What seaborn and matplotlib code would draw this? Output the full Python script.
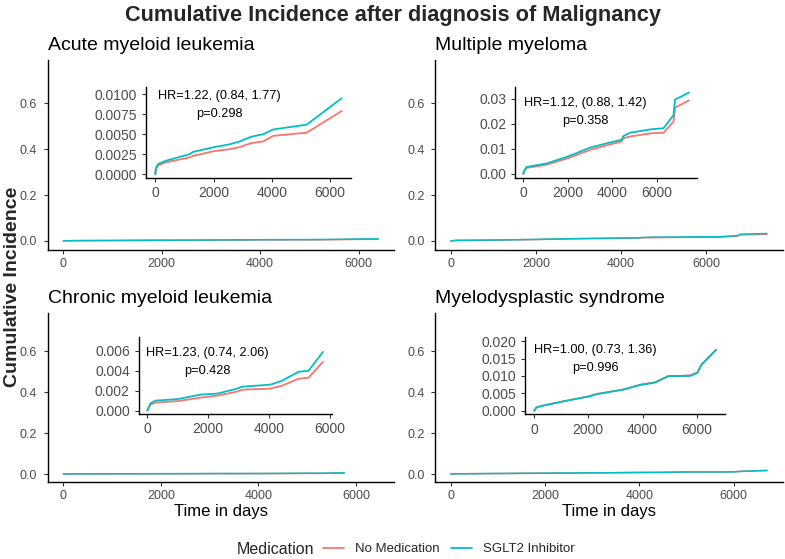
import numpy as np
import pandas as pd
import matplotlib
matplotlib.use("Agg")
import matplotlib.pyplot as plt
from matplotlib.ticker import FuncFormatter
from matplotlib.lines import Line2D
import seaborn as sns

# ---------------- data ----------------
groups = ["No Medication", "SGLT2 Inhibitor"]
palette = {"No Medication": "#F8766D", "SGLT2 Inhibitor": "#00BFC4"}

titles = ["Acute myeloid leukemia", "Multiple myeloma",
          "Chronic myeloid leukemia", "Myelodysplastic syndrome"]

aml_days = [0, 20, 100, 370, 1170, 1300, 2030, 2500, 2900, 3300, 3700, 4050, 5200, 6400]
aml_none = [0, 0.0007, 0.0011, 0.0015, 0.0021, 0.0023, 0.0029, 0.0031, 0.0034, 0.0039, 0.0041, 0.0048, 0.0052, 0.0079]
aml_sglt = [0, 0.0008, 0.0013, 0.0017, 0.0025, 0.0028, 0.0034, 0.0037, 0.0041, 0.0047, 0.0050, 0.0056, 0.0062, 0.0095]

mm_days = [0, 30, 150, 1050, 2020, 3000, 3740, 4410, 4490, 4790, 5760, 6290, 6740, 6810, 7435]
mm_none = [0, 0.0010, 0.0024, 0.0037, 0.0063, 0.0096, 0.0114, 0.0129, 0.0142, 0.0149, 0.0162, 0.0164, 0.0208, 0.0264, 0.0293]
mm_sglt = [0, 0.0012, 0.0028, 0.0042, 0.0070, 0.0105, 0.0122, 0.0136, 0.0151, 0.0164, 0.0178, 0.0182, 0.0234, 0.0296, 0.0324]

cml_days = [0, 110, 270, 980, 1750, 2290, 2940, 3110, 4030, 4420, 4960, 5290, 5760]
cml_none = [0, 0.0006, 0.0008, 0.00094, 0.0013, 0.0015, 0.0019, 0.0021, 0.0022, 0.0025, 0.0032, 0.0033, 0.0049]
cml_sglt = [0, 0.00074, 0.0010, 0.00114, 0.0016, 0.0017, 0.0022, 0.0024, 0.0026, 0.0030, 0.0039, 0.0040, 0.0059]

mds_days = [0, 90, 270, 1070, 2060, 2300, 3290, 3900, 4460, 4950, 5750, 6020, 6180, 6707]
mds_none = [0, 0.0010, 0.0014, 0.0027, 0.0042, 0.0048, 0.0061, 0.0075, 0.0082, 0.0099, 0.0102, 0.0110, 0.0133, 0.0174]
mds_sglt = [0, 0.0010, 0.0014, 0.0027, 0.0042, 0.0048, 0.0061, 0.0074, 0.0081, 0.0100, 0.0100, 0.0109, 0.0133, 0.0175]

hr_labels = ["HR=1.22, (0.84, 1.77)", "HR=1.12, (0.88, 1.42)",
             "HR=1.23, (0.74, 2.06)", "HR=1.00, (0.73, 1.36)"]
p_labels = ["p=0.298", "p=0.358", "p=0.428", "p=0.996"]

main_xticks = [0, 2000, 4000, 6000]
main_yticks = [0.0, 0.2, 0.4, 0.6]
inset_yticks = [[0, 0.0025, 0.005, 0.0075, 0.01],
                [0, 0.01, 0.02, 0.03],
                [0, 0.002, 0.004, 0.006],
                [0, 0.005, 0.010, 0.015, 0.020]]
inset_ydec = [4, 2, 3, 3]

# ---------------- style ----------------
sns.set_style("ticks")
plt.rcParams["font.family"] = ["Liberation Sans", "DejaVu Sans"]

W, H = 785, 559
fig = plt.figure(figsize=(W / 100, H / 100), dpi=100)


def px_axes(x1, x2, y1, y2):
    return fig.add_axes([x1 / W, 1 - y2 / H, (x2 - x1) / W, (y2 - y1) / H])


def frame(ax, fs, xpad, ypad):
    sns.despine(ax=ax)
    for s in ("left", "bottom"):
        ax.spines[s].set_color("black")
        ax.spines[s].set_linewidth(1.0)
    ax.tick_params(axis="both", which="major", bottom=True, left=True,
                   direction="out", length=2.8, width=0.8, color="#333333",
                   labelcolor="#4D4D4D", labelsize=fs)
    ax.tick_params(axis="x", pad=xpad)
    ax.tick_params(axis="y", pad=ypad)
    ax.set_facecolor("none")
    ax.grid(False)


def make_df(days, none, sglt):
    return pd.DataFrame({
        "days": list(days) + list(days),
        "inc": list(none) + list(sglt),
        "Medication": [groups[0]] * len(days) + [groups[1]] * len(days),
    })


datasets = [make_df(aml_days, aml_none, aml_sglt),
            make_df(mm_days, mm_none, mm_sglt),
            make_df(cml_days, cml_none, cml_sglt),
            make_df(mds_days, mds_none, mds_sglt)]

main_boxes = [(47.5, 394, 60, 249.6), (435, 782.7, 60, 249.6),
              (47.5, 394, 313, 481.7), (435, 782.7, 313, 481.7)]
main_xlims = [(-320, 6720), (-372, 7807), (-323, 6780), (-335, 7042)]
inset_boxes = [(146, 351, 87, 177.5), (515, 697.3, 87, 177.5),
               (138.5, 331.7, 337, 414), (525, 725, 337, 414.3)]
inset_ylims = [(-0.0004, 0.0109), (-0.0014, 0.0346),
               (-0.00035, 0.0074), (-0.001, 0.0212)]
text_pos = [(0.36, 0.897, 0.699), (0.388, 0.828, 0.625),
            (0.354, 0.798, 0.56), (0.35, 0.829, 0.60)]

for i, df in enumerate(datasets):
    # main panel
    ax = px_axes(*main_boxes[i])
    sns.lineplot(data=df, x="days", y="inc", hue="Medication", hue_order=groups,
                 palette=palette, estimator=None, sort=False, linewidth=1.1,
                 legend=False, ax=ax)
    ax.set_xlim(*main_xlims[i])
    ax.set_ylim(-0.0375, 0.7875)
    ax.set_xticks(main_xticks)
    ax.set_yticks(main_yticks)
    ax.yaxis.set_major_formatter(FuncFormatter(lambda v, p: f"{v:.1f}"))
    frame(ax, 9, 3.3, 4.5)
    ax.set_ylabel("")
    if i >= 2:
        ax.set_xlabel("Time in days", fontsize=12, color="black", labelpad=1.5)
    else:
        ax.set_xlabel("")
    ax.set_title(titles[i], loc="left", fontsize=14, color="black", pad=7)

    # inset panel
    ia = px_axes(*inset_boxes[i])
    sns.lineplot(data=df, x="days", y="inc", hue="Medication", hue_order=groups,
                 palette=palette, estimator=None, sort=False, linewidth=1.3,
                 legend=False, ax=ia)
    xmax = df["days"].max()
    ia.set_xlim(-0.05 * xmax, 1.05 * xmax)
    ia.set_ylim(*inset_ylims[i])
    ia.set_xticks(main_xticks)
    ia.set_yticks(inset_yticks[i])
    dec = inset_ydec[i]
    ia.yaxis.set_major_formatter(FuncFormatter(lambda v, p, d=dec: f"{v:.{d}f}"))
    frame(ia, 10, 3.3, 3.5)
    ia.set_xlabel("")
    ia.set_ylabel("")
    tx, ty1, ty2 = text_pos[i]
    ia.text(tx, ty1, hr_labels[i], transform=ia.transAxes, ha="center",
            va="center", fontsize=9.2, color="black")
    ia.text(tx, ty2, p_labels[i], transform=ia.transAxes, ha="center",
            va="center", fontsize=9.2, color="black")

# figure-level labels
fig.text(393 / W, 1 - 15 / H, "Cumulative Incidence after diagnosis of Malignancy",
         ha="center", va="center", fontsize=15.7, fontweight="bold")
fig.text(13 / W, 1 - 287 / H, "Cumulative Incidence", rotation=90,
         ha="center", va="center", fontsize=14, fontweight="bold")

# legend
handles = [Line2D([], [], color=palette[g], lw=1.3) for g in groups]
fig.text(237 / W, 1 - 549 / H, "Medication", ha="left", va="center", fontsize=11.5)
fig.legend(handles, groups, loc="center left", bbox_to_anchor=(323 / W, 1 - 549 / H),
           ncol=2, frameon=False, fontsize=9.5, handlelength=1.6,
           handletextpad=0.85, columnspacing=0.85, borderpad=0, borderaxespad=0)

fig.savefig("out.png", dpi=100, facecolor="white")
